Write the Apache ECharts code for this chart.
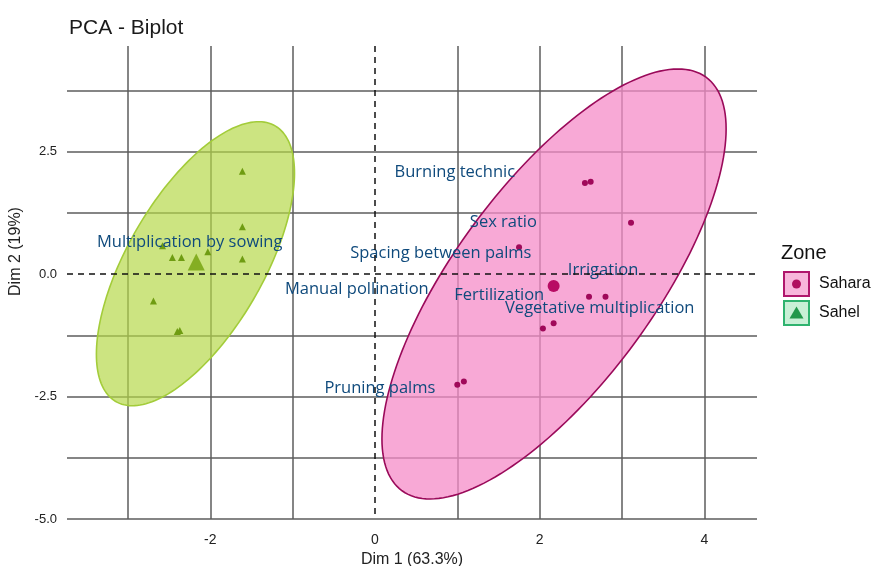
<!DOCTYPE html>
<html><head><meta charset="utf-8">
<script src="https://cdn.jsdelivr.net/npm/echarts@6/dist/echarts.min.js"></script>
<style>html,body{margin:0;padding:0;background:#fff}#c{width:875px;height:566px}</style>
</head><body><div id="c"></div>
<script>
// ---- axes ----
const xMin = -3.74, xMax = 4.64, yMin = -5, yMax = 4.66;
const xGridValues = [-3, -2, -1, 1, 2, 3, 4];
const xLabelValues = [-2, 0, 2, 4];
const yGridValues = [-5, -3.75, -2.5, -1.25, 1.25, 2.5, 3.75];
const yLabelValues = [-5, -2.5, 0, 2.5];

// ---- individuals ----
const saharaPoints = [
  [2.55, 1.86], [2.62, 1.89], [3.11, 1.05], [1.75, 0.55],
  [2.60, -0.46], [2.80, -0.46], [2.17, -1.00], [2.04, -1.11],
  [1.00, -2.26], [1.08, -2.19]
];
const saharaMean = [[2.17, -0.24]];
const sahelPoints = [
  [-1.61, 2.10], [-1.61, 0.97], [-1.61, 0.31], [-2.03, 0.46],
  [-2.35, 0.34], [-2.46, 0.34], [-2.58, 0.58], [-2.69, -0.55],
  [-2.37, -1.15], [-2.40, -1.17]
];
const sahelMean = [[-2.17, 0.25]];

// ---- confidence ellipses: centre and covariance [sxx, syy, sxy] ----
const saharaEllipseCenter = [2.175, -0.20];
const saharaEllipseCov = [4.368, 19.28, 6.617];
const sahelEllipseCenter = [-2.18, 0.214];
const sahelEllipseCov = [1.447, 8.412, 2.224];

// ---- variable labels ----
const varNames = ['Multiplication by sowing', 'Manual pollination', 'Burning technic', 'Sex ratio',
  'Spacing between palms', 'Irrigation', 'Fertilization', 'Vegetative multiplication', 'Pruning palms'];
const varX = [-2.25, -0.22, 0.97, 1.56, 0.80, 2.77, 1.51, 2.73, 0.06];
const varY = [0.645, -0.30, 2.075, 1.054, 0.435, 0.088, -0.423, -0.694, -2.328];

function ellipseSeries(name, c, cov, fill, stroke) {
  return {
    type: 'custom', name: name, silent: true, z: 1,
    data: [c],
    renderItem: function (params, api) {
      const l11 = Math.sqrt(cov[0]);
      const l21 = cov[2] / l11;
      const l22 = Math.sqrt(cov[1] - l21 * l21);
      const pts = [];
      const n = 180;
      for (let i = 0; i < n; i++) {
        const t = i / n * 2 * Math.PI;
        pts.push(api.coord([c[0] + l11 * Math.cos(t), c[1] + l21 * Math.cos(t) + l22 * Math.sin(t)]));
      }
      return { type: 'polygon', shape: { points: pts }, style: { fill: fill, stroke: stroke, lineWidth: 1.6 } };
    }
  };
}

const chart = echarts.init(document.getElementById('c'));
const gridLine = { show: true, lineStyle: { color: '#5c5c5c', width: 1.5 } };
chart.setOption({
  animation: false,
  backgroundColor: '#fff',
  title: { text: 'PCA - Biplot', left: 64, top: 13,
    textStyle: { fontFamily: 'Liberation Sans', fontSize: 21, fontWeight: 'normal', color: '#1a1a1a' } },
  grid: { left: 67, right: 118, top: 46, bottom: 47, outerBoundsMode: 'none', containLabel: false },
  xAxis: {
    type: 'value', min: xMin, max: xMax,
    name: 'Dim 1 (63.3%)', nameLocation: 'middle', nameGap: 29,
    nameTextStyle: { fontFamily: 'Liberation Sans', fontSize: 16, color: '#222' },
    axisLine: { show: false },
    axisTick: { show: false, customValues: xGridValues },
    axisLabel: { customValues: xLabelValues, fontFamily: 'Liberation Sans', fontSize: 14, color: '#222', margin: 14,
      formatter: v => String(Math.round(v)) },
    splitLine: gridLine
  },
  yAxis: {
    type: 'value', min: yMin, max: yMax,
    name: 'Dim 2 (19%)', nameLocation: 'middle', nameGap: 36, nameRotate: 90,
    nameTextStyle: { fontFamily: 'Liberation Sans', fontSize: 16, color: '#222', padding: [0, 0, 0, 62] },
    axisLine: { show: false },
    axisTick: { show: false, customValues: yGridValues },
    axisLabel: { customValues: yLabelValues, fontFamily: 'Liberation Sans', fontSize: 13, color: '#222', margin: 10,
      formatter: v => v.toFixed(1) },
    splitLine: gridLine
  },
  series: [
    ellipseSeries('Sahara ellipse', saharaEllipseCenter, saharaEllipseCov, 'rgba(245,140,200,0.75)', '#9a0a5a'),
    ellipseSeries('Sahel ellipse', sahelEllipseCenter, sahelEllipseCov, 'rgba(180,215,70,0.68)', '#a3cc3a'),
    {
      type: 'line', name: 'zero lines', data: [], silent: true, z: 2,
      markLine: {
        silent: true, symbol: ['none', 'none'], label: { show: false },
        lineStyle: { color: '#111', width: 1.5, type: [6, 5] },
        data: [
          [{ coord: [0, yMax] }, { coord: [0, yMin] }],
          [{ coord: [xMin, 0] }, { coord: [xMax, 0] }]
        ]
      }
    },
    {
      type: 'scatter', name: 'Sahara', data: saharaPoints, symbol: 'circle', symbolSize: 6, z: 3,
      itemStyle: { color: '#a0095a', opacity: 1 }
    },
    {
      type: 'scatter', name: 'Sahara mean', data: saharaMean, symbol: 'circle', symbolSize: 12, z: 3,
      itemStyle: { color: '#b80c64', opacity: 1 }
    },
    {
      type: 'scatter', name: 'Sahel', data: sahelPoints, symbol: 'triangle', symbolSize: 7, z: 3,
      itemStyle: { color: '#6f9c12', opacity: 1 }
    },
    {
      type: 'scatter', name: 'Sahel mean', data: sahelMean, symbol: 'triangle', symbolSize: 17, z: 3,
      itemStyle: { color: '#84ae22', opacity: 1 }
    },
    {
      type: 'custom', name: 'Variables', z: 4, silent: true,
      data: varNames.map((n, i) => [varX[i], varY[i], i]),
      renderItem: function (params, api) {
        const p = api.coord([api.value(0), api.value(1)]);
        return {
          type: 'text', x: p[0], y: p[1],
          style: { text: varNames[api.value(2)], fill: '#0f4a7c', align: 'center', verticalAlign: 'middle',
            fontFamily: 'Open Sans', fontSize: 16.5 }
        };
      }
    }
  ],
  graphic: [
    { type: 'text', left: 781, top: 243, style: { text: 'Zone', fontFamily: 'Liberation Sans', fontSize: 20, fill: '#111' } },
    { type: 'rect', shape: { x: 784, y: 272, width: 25, height: 24 }, style: { fill: '#f8b6db', stroke: '#b0166c', lineWidth: 2 } },
    { type: 'circle', shape: { cx: 796.5, cy: 284, r: 4.5 }, style: { fill: '#b0105f' } },
    { type: 'text', x: 819, y: 284, style: { text: 'Sahara', fontFamily: 'Liberation Sans', fontSize: 16, fill: '#111', verticalAlign: 'middle' } },
    { type: 'rect', shape: { x: 784, y: 301, width: 25, height: 24 }, style: { fill: '#c8f0d6', stroke: '#2fb36f', lineWidth: 2 } },
    { type: 'polygon', shape: { points: [[796.5, 306.5], [803.5, 318.5], [789.5, 318.5]] }, style: { fill: '#22984b' } },
    { type: 'text', x: 819, y: 313, style: { text: 'Sahel', fontFamily: 'Liberation Sans', fontSize: 16, fill: '#111', verticalAlign: 'middle' } }
  ]
});
</script></body></html>
